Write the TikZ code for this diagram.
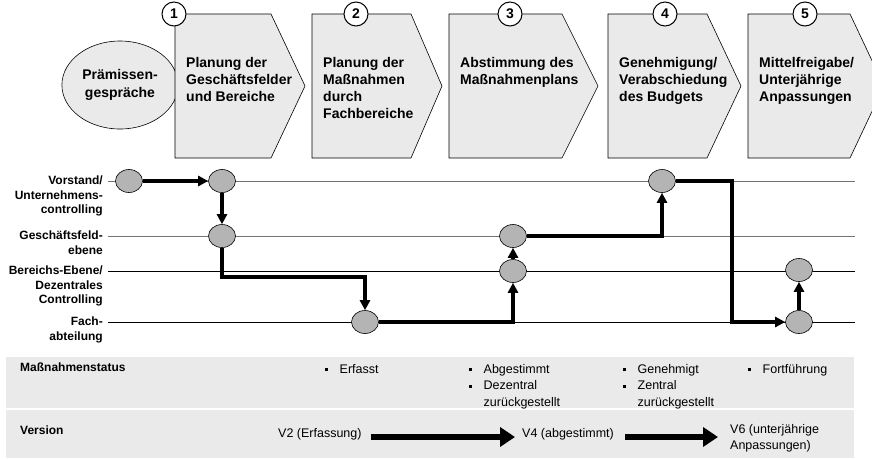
\documentclass[tikz,border=0pt]{standalone}
\usepackage{fontspec}
\setmainfont{Liberation Sans}
\usetikzlibrary{arrows.meta, shapes.geometric}
\definecolor{phasegray}{RGB}{234,234,234}
\definecolor{bandgray}{RGB}{234,234,234}
\definecolor{dotgray}{RGB}{180,180,180}
\newcommand{\laneTip}{{Triangle[length=10pt,width=10pt]}}
\newcommand{\verTip}{{Triangle[length=15pt,width=19pt]}}
\newcommand{\sqbul}{\makebox[14.5pt][l]{\rule[2pt]{3pt}{3pt}}}

\begin{document}
\begin{tikzpicture}[x=1pt, y=-1pt, font=\fontsize{12}{14.5}\selectfont\bfseries,
	phasetext/.style={anchor=north west, inner sep=0pt, align=left, font=\fontsize{14}{17}\selectfont\bfseries},
	nrcirc/.style={circle, draw, line width=1pt, fill=white, minimum size=24pt, inner sep=0pt, font=\fontsize{14}{14}\selectfont\bfseries},
	lanelabel/.style={anchor=north east, inner sep=0pt, align=right},
	lanedot/.style={ellipse, draw, line width=0.6pt, fill=dotgray, minimum width=27pt, minimum height=23pt, inner sep=0pt},
	flowline/.style={line width=3.5pt, -\laneTip},
	verline/.style={line width=5.5pt, -\verTip},
	statustext/.style={anchor=north west, inner sep=0pt, align=left, font=\fontsize{12.5}{16.5}\selectfont},
	bandhead/.style={anchor=north west, inner sep=0pt}]
	\useasboundingbox (0,0) rectangle (872,459);
	\clip (0,0) rectangle (872,459);
	
	% phases
	\node[ellipse, draw, line width=0.6pt, fill=phasegray, minimum width=102pt, minimum height=88pt, align=center, font=\fontsize{14}{18}\selectfont\bfseries] (premise) at (120,85) {Prämissen-\\gespräche};
	\foreach \nr/\l/\r/\t/\c/\txt in {1/175/271/305/174/{Planung der\\Geschäftsfelder\\und Bereiche},
		2/312/411/442/356/{Planung der\\Maßnahmen\\durch\\Fachbereiche},
		3/449/562/598/510/{Abstimmung des\\Maßnahmenplans},
		4/608/707/741/665/{Genehmigung/\\Verabschiedung\\des Budgets},
		5/748/850/884/805/{Mittelfreigabe/\\Unterjährige\\Anpassungen}}{
		\draw[fill=phasegray, line width=0.6pt] (\l,14) -- (\r,14) -- (\t,86) -- (\r,158) -- (\l,158) -- cycle;
		\node[phasetext] (phase\nr) at (\l+11,57.5) {\txt};
		\node[nrcirc] (nr\nr) at (\c,14) {\nr};
	}
	
	% lanes
	\foreach \y/\c in {181/black!55, 236/black!55, 271/black, 322/black}
		\draw[\c, line width=0.8pt] (108,\y) -- (855,\y);
	\node[lanelabel] (lane1) at (103,176) {Vorstand/\\Unternehmens-\\controlling};
	\node[lanelabel] (lane2) at (103,231) {Geschäftsfeld-\\ebene};
	\node[lanelabel] (lane3) at (103,266) {Bereichs-Ebene/\\Dezentrales\\Controlling};
	\node[lanelabel] (lane4) at (103,317) {Fach-\\abteilung};
	
	\node[lanedot] (vs1) at (129,181) {};
	\node[lanedot] (vs2) at (222,181) {};
	\node[lanedot] (gf1) at (222,236) {};
	\node[lanedot] (fa1) at (365,322) {};
	\node[lanedot] (be1) at (513,271) {};
	\node[lanedot] (gf2) at (513,236) {};
	\node[lanedot] (vs3) at (662,181) {};
	\node[lanedot] (be2) at (799,270) {};
	\node[lanedot] (fa2) at (799,322) {};
	\coordinate (bend1) at (222,277);
	\coordinate (bend2) at (732,181);
	
	\draw[flowline] (vs1) -- (vs2);
	\draw[flowline] (vs2) -- (gf1);
	\draw[flowline] (gf1) -- (bend1) -| (fa1);
	\draw[flowline] (fa1) -| (be1);
	\draw[flowline] (be1) -- (gf2);
	\draw[flowline] (gf2) -| (vs3);
	\draw[flowline] (vs3) -- (bend2) |- (fa2);
	\draw[flowline] (fa2) -- (be2);
	
	% status and version
	\fill[bandgray] (6,357) rectangle (854,408);
	\fill[bandgray] (6,410) rectangle (854,458);
	\node[bandhead] (statushead) at (20,363) {Maßnahmenstatus};
	\node[bandhead] (versionhead) at (20,426) {Version};
	
	\node[statustext] (st1) at (325,364) {\sqbul Erfasst};
	\node[statustext] (st2) at (469,364) {\sqbul Abgestimmt\\\sqbul Dezentral\\\hspace*{14.5pt}zurückgestellt};
	\node[statustext] (st3) at (623,364) {\sqbul Genehmigt\\\sqbul Zentral\\\hspace*{14.5pt}zurückgestellt};
	\node[statustext] (st4) at (748,364) {\sqbul Fortführung};
	
	\node[statustext, anchor=west] (v2) at (278,434) {V2 (Erfassung)};
	\node[statustext, anchor=west] (v4) at (522,434) {V4 (abgestimmt)};
	\node[statustext, anchor=west, font=\fontsize{12.5}{16}\selectfont] (v6) at (730,438) {V6 (unterjährige\\Anpassungen)};
	\draw[verline, shorten <=9pt, shorten >=7pt] ([yshift=-3pt]v2.east) -- ([yshift=-3pt]v4.west);
	\draw[verline, shorten <=11pt, shorten >=12pt] ([yshift=-3pt]v4.east) -- ([yshift=-3pt]v4.east -| v6.west);
\end{tikzpicture}
\end{document}
